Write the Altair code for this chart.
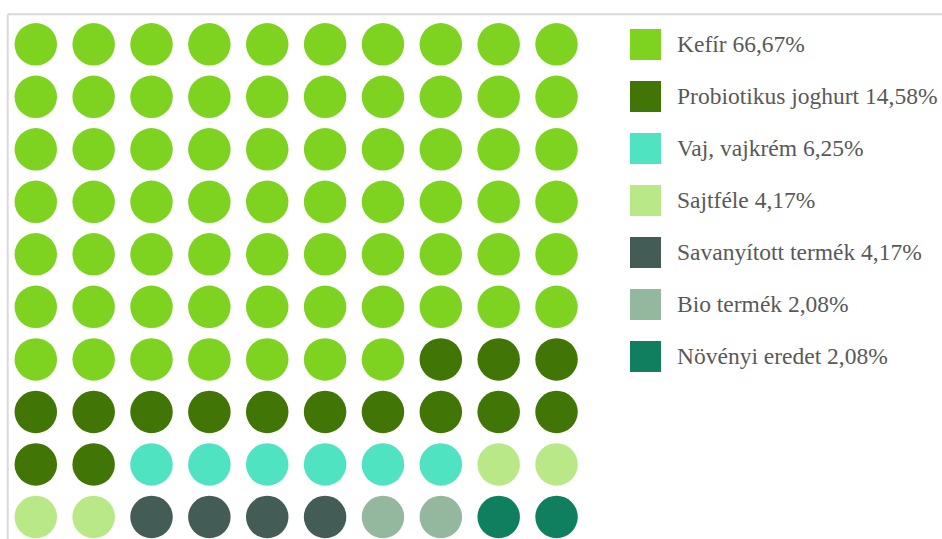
import altair as alt
import pandas as pd

categories = ["Kefír", "Probiotikus joghurt", "Vaj, vajkrém", "Sajtféle",
              "Savanyított termék", "Bio termék", "Növényi eredet"]
percents = ["66,67%", "14,58%", "6,25%", "4,17%", "4,17%", "2,08%", "2,08%"]
counts = [67, 15, 6, 4, 4, 2, 2]
colors = ["#7ED321", "#417505", "#50E3C2", "#B8E986", "#435C55", "#94B89D", "#0F7F60"]

labels = [f"{c} {p}" for c, p in zip(categories, percents)]

cells = []
idx = 0
for lab, n in zip(labels, counts):
    for _ in range(n):
        cells.append({"col": idx % 10, "row": idx // 10, "cat": lab, "order": idx})
        idx += 1
df = pd.DataFrame(cells)

dots = alt.Chart(df).mark_circle(size=1806, opacity=1).encode(
    x=alt.X("col:Q", scale=alt.Scale(domain=[-0.463, 9.492], nice=False, zero=False), axis=None),
    y=alt.Y("row:Q", scale=alt.Scale(domain=[-0.5, 9.42], nice=False, zero=False, reverse=True), axis=None),
    color=alt.Color(
        "cat:N",
        scale=alt.Scale(domain=labels, range=colors),
        sort=labels,
        legend=alt.Legend(
            title=None,
            orient="none",
            legendX=621,
            legendY=11,
            symbolType="square",
            symbolSize=961,
            symbolStrokeWidth=0,
            symbolOpacity=1,
            labelFont="Liberation Serif",
            labelFontSize=23.5,
            labelColor="#595959",
            labelOffset=16,
            labelLimit=400,
            rowPadding=21,
            padding=0,
        ),
    ),
)

one = pd.DataFrame({"a": [0]})
top_line = alt.Chart(one).mark_rule(color="#D9D9D9", strokeWidth=2).encode(
    x=alt.value(-1.3), x2=alt.value(940), y=alt.value(-3.7)
)
left_line = alt.Chart(one).mark_rule(color="#D9D9D9", strokeWidth=2).encode(
    x=alt.value(-1.3), y=alt.value(-3.7), y2=alt.value(530)
)

chart = alt.layer(top_line, left_line, dots).properties(
    width=576,
    height=521,
    padding={"left": 9, "top": 18, "right": 357, "bottom": 0},
    autosize=alt.AutoSizeParams(type="none"),
    background="white",
).configure_view(stroke=None)

chart.save("out.html", embed_options={"renderer": "svg", "actions": False})
